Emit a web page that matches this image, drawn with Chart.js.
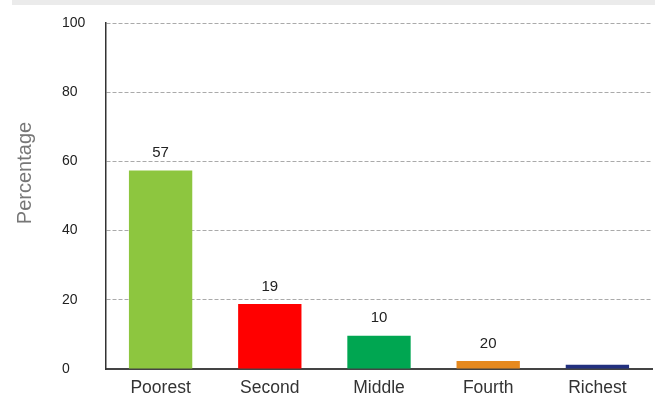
<!DOCTYPE html>
<html>
<head>
<meta charset="utf-8">
<script src="https://cdn.jsdelivr.net/npm/chart.js@4"></script>
<style>
  html, body { margin: 0; padding: 0; background: #fff; }
</style>
</head>
<body>
<canvas id="myBarChart" width="662" height="396"></canvas>
<script>
var categories = ["Poorest", "Second", "Middle", "Fourth", "Richest"];
var values = [57.4, 18.8, 9.6, 2.3, 1.2];
var valueLabels = ["57", "19", "10", "20", ""];
var barColors = ["#8dc63f", "#ff0000", "#00a651", "#e6891e", "#22307f"];
var yTicks = [0, 20, 40, 60, 80, 100];
var yTitle = "Percentage";

var FONT = "'Liberation Sans', Arial, Helvetica, sans-serif";

// grey strip at the top + rotated axis title
var decorPlugin = {
    id: "decor",
    beforeDraw: function(chart) {
        var c = chart.ctx;
        c.save();
        c.fillStyle = "#ebebeb";
        c.fillRect(12, 0, 643, 5);
        c.translate(25, 173);
        c.rotate(-Math.PI / 2);
        c.fillStyle = "#777";
        c.font = "20px " + FONT;
        c.textAlign = "center";
        c.textBaseline = "middle";
        c.fillText(yTitle, 0, 0);
        c.restore();
    }
};

// numbers above the bars
var labelPlugin = {
    id: "barLabels",
    afterDatasetsDraw: function(chart) {
        var c = chart.ctx;
        var meta = chart.getDatasetMeta(0);
        c.save();
        c.fillStyle = "#222";
        c.font = "15px " + FONT;
        c.textAlign = "center";
        c.textBaseline = "bottom";
        meta.data.forEach(function(bar, i) {
            if (valueLabels[i]) c.fillText(valueLabels[i], bar.x, bar.y - 10);
        });
        c.restore();
    }
};

new Chart(document.getElementById("myBarChart"), {
    type: "bar",
    data: {
        labels: categories,
        datasets: [{
            data: values,
            backgroundColor: barColors,
            borderWidth: 0,
            barPercentage: 0.58,
            categoryPercentage: 1
        }]
    },
    plugins: [decorPlugin, labelPlugin],
    options: {
        responsive: false,
        animation: false,
        layout: { padding: { left: 62, right: 10, top: 23, bottom: 0 } },
        plugins: {
            legend: { display: false },
            tooltip: { enabled: false }
        },
        scales: {
            x: {
                grid: { display: false, drawTicks: false },
                border: { color: "#444", width: 2 },
                ticks: { color: "#333", font: { family: FONT, size: 17.5 }, padding: 9 },
                afterFit: function(s) { s.height = 27; }
            },
            y: {
                min: 0,
                max: 100,
                afterBuildTicks: function(s) {
                    s.ticks = yTicks.map(function(v) { return { value: v }; });
                },
                grid: { color: "#aaa", drawTicks: false },
                border: { color: "#333", width: 1.5, dash: [4, 2] },
                // labels are left aligned in the reference
                ticks: { color: "#222", font: { family: FONT, size: 14 }, padding: 0, crossAlign: "far" },
                afterFit: function(s) { s.width = 44; }
            }
        }
    }
});
</script>
</body>
</html>
